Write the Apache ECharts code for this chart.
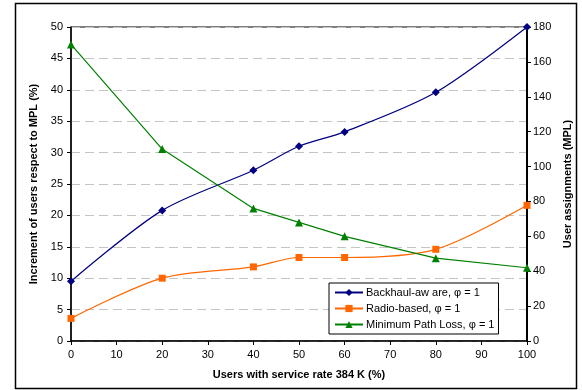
<!DOCTYPE html>
<html><head><meta charset="utf-8">
<script src="https://cdn.jsdelivr.net/npm/echarts@6/dist/echarts.min.js"></script>
<style>html,body{margin:0;padding:0;background:#fff}#c{width:582px;height:390px}</style>
</head><body><div id="c"></div>
<script>
const xValues = [0, 20, 40, 50, 60, 80, 100];
const backhaul = [9.5, 20.8, 27.2, 31.0, 33.3, 39.6, 50.0];
const radio = [3.6, 10.0, 11.8, 13.3, 13.3, 14.6, 21.6];
const mplAssign = [170, 110, 76, 68, 60, 47.5, 42];
const seriesNames = ['Backhaul-aw are, \u03c6 = 1', 'Radio-based, \u03c6 = 1', 'Minimum Path Loss, \u03c6 = 1'];

const font = 'Liberation Sans, Arial, sans-serif';
const chart = echarts.init(document.getElementById('c'), null, {renderer: 'canvas'});
const pairs = a => xValues.map((x, i) => [x, a[i]]);
chart.setOption({
  animation: false,
  backgroundColor: '#fff',
  graphic: [{type: 'rect', shape: {x: 15.5, y: 3.5, width: 561, height: 385}, style: {fill: 'none', stroke: '#000', lineWidth: 1.5}, silent: true}],
  grid: {left: 71, right: 55, top: 27, bottom: 49, show: true, borderColor: '#000', borderWidth: 1, backgroundColor: 'transparent'},
  legend: {
    orient: 'vertical', left: 329, top: 283, itemGap: 5, itemWidth: 28, itemHeight: 9,
    backgroundColor: '#fff', borderColor: '#000', borderWidth: 1, padding: [4, 4, 4, 5],
    textStyle: {fontFamily: font, fontSize: 11, color: '#000', padding: [0, 0, 0, -2]},
    data: seriesNames
  },
  xAxis: {
    type: 'value', min: 0, max: 100, interval: 10,
    name: 'Users with service rate 384 K (%)', nameLocation: 'middle', nameGap: 28,
    nameTextStyle: {fontFamily: font, fontSize: 11, fontWeight: 'bold', color: '#000'},
    axisLine: {lineStyle: {color: '#000', width: 1.5}},
    axisTick: {show: true, length: 4, inside: false, lineStyle: {color: '#000'}},
    axisLabel: {fontFamily: font, fontSize: 11, color: '#000', margin: 8},
    splitLine: {show: false}
  },
  yAxis: [{
    type: 'value', min: 0, max: 50, interval: 5, position: 'left',
    name: 'Increment of users respect to MPL (%)', nameLocation: 'middle', nameGap: 28,
    nameTextStyle: {fontFamily: font, fontSize: 11, fontWeight: 'bold', color: '#000'},
    axisLine: {show: true, lineStyle: {color: '#000', width: 1.5}},
    axisTick: {show: true, length: 4, lineStyle: {color: '#000'}},
    axisLabel: {fontFamily: font, fontSize: 11, color: '#000', margin: 8},
    splitLine: {show: true, lineStyle: {color: '#c4c4c4', type: [9, 5], width: 1}}
  }, {
    type: 'value', min: 0, max: 180, interval: 20, position: 'right',
    name: 'User assignments (MPL)', nameLocation: 'middle', nameGap: 33,
    nameTextStyle: {fontFamily: font, fontSize: 11, fontWeight: 'bold', color: '#000'},
    axisLine: {show: true, lineStyle: {color: '#000', width: 2}},
    axisTick: {show: true, length: 4, lineStyle: {color: '#000'}},
    axisLabel: {fontFamily: font, fontSize: 11, color: '#000', margin: 6},
    splitLine: {show: false}
  }],
  series: [{
    name: seriesNames[0], type: 'line', yAxisIndex: 0, data: pairs(backhaul), smooth: 0.3,
    symbol: 'diamond', symbolSize: 8, color: '#000080',
    lineStyle: {width: 1.2, color: '#000080'}, itemStyle: {color: '#000080'}
  }, {
    name: seriesNames[1], type: 'line', yAxisIndex: 0, data: pairs(radio), smooth: 0.3,
    symbol: 'rect', symbolSize: 7, color: '#ff6600',
    lineStyle: {width: 1.2, color: '#ff6600'}, itemStyle: {color: '#ff6600'}
  }, {
    name: seriesNames[2], type: 'line', yAxisIndex: 1, data: pairs(mplAssign), smooth: false,
    symbol: 'triangle', symbolSize: 8, color: '#008000',
    lineStyle: {width: 1.2, color: '#008000'}, itemStyle: {color: '#008000'}
  }]
});
</script>
</body></html>
